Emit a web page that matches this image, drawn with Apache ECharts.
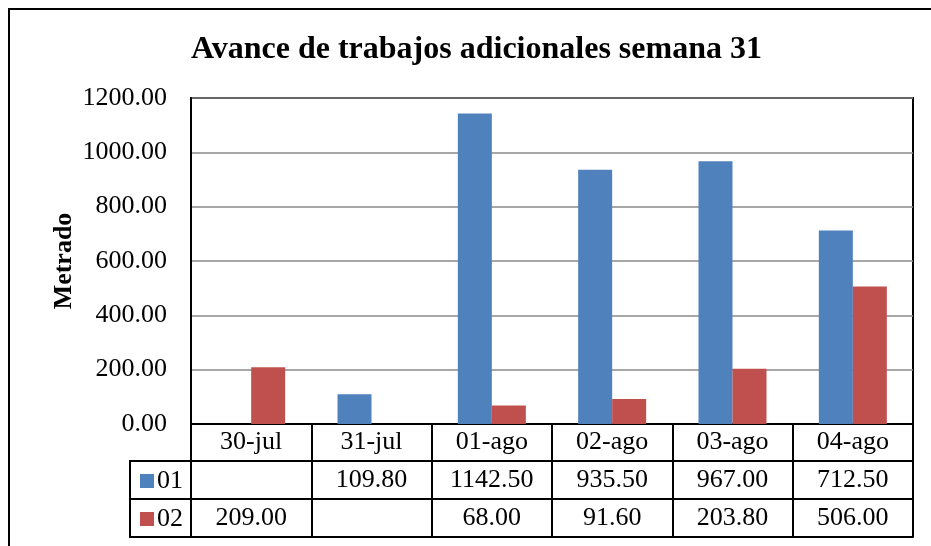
<!DOCTYPE html>
<html>
<head>
<meta charset="utf-8">
<script src="https://cdn.jsdelivr.net/npm/echarts@6/dist/echarts.min.js"></script>
<style>
  html, body { margin: 0; padding: 0; background: #fff; }
  #main { width: 931px; height: 546px; }
</style>
</head>
<body>
<div id="main"></div>
<script>
let categories = ["30-jul", "31-jul", "01-ago", "02-ago", "03-ago", "04-ago"];
let serie01 = [null, 109.8, 1142.5, 935.5, 967.0, 712.5];
let serie02 = [209.0, null, 68.0, 91.6, 203.8, 506.0];
let yTicks = { min: 0, max: 1200, step: 200 };

let font = "Liberation Serif";
let fmt = (v) => (v == null ? "" : v.toFixed(2));

// table row helper: one bottom axis per row, ticks act as cell dividers
let rowAxis = (offset, values, tickLen, margin) => ({
  type: "category",
  data: categories,
  position: "bottom",
  offset: offset,
  axisLine: { show: true, lineStyle: { color: "#000", width: 2 } },
  axisTick: { show: tickLen > 0, length: tickLen, interval: 0, lineStyle: { color: "#000", width: 2 } },
  axisLabel: {
    show: values != null,
    interval: 0,
    margin: margin,
    color: "#000",
    fontFamily: font,
    fontSize: 26,
    formatter: (v, i) => (values ? values[i] : ""),
  },
  splitLine: { show: false },
});

let option = {
  animation: false,
  backgroundColor: "#fff",
  title: {
    text: "Avance de trabajos adicionales semana 31",
    left: 186,
    top: 29,
    textStyle: { fontFamily: font, fontSize: 32, fontWeight: "bold", color: "#000" },
  },
  legend: {
    orient: "vertical",
    left: 135,
    top: 463,
    itemWidth: 14,
    itemHeight: 14,
    itemGap: 12,
    icon: "rect",
    textStyle: { fontFamily: font, fontSize: 26, color: "#000", padding: [0, 0, 0, -2] },
    data: ["01", "02"],
  },
  grid: {
    left: 191,
    top: 98,
    width: 722,
    height: 326,
    show: true,
    borderColor: "#000",
    borderWidth: 2,
    backgroundColor: "transparent",
  },
  xAxis: [
    rowAxis(0, categories, 37, 5),
    rowAxis(37, serie01.map(fmt), 38, 6),
    rowAxis(75, serie02.map(fmt), 38, 6),
    rowAxis(113, null, 0, 0),
  ],
  yAxis: {
    type: "value",
    min: yTicks.min,
    max: yTicks.max,
    interval: yTicks.step,
    name: "Metrado",
    nameLocation: "middle",
    nameRotate: 90,
    nameGap: 114,
    nameMoveOverlap: false,
    nameTextStyle: { fontFamily: font, fontSize: 26, fontWeight: "bold", color: "#000" },
    axisLine: { show: true, lineStyle: { color: "#000", width: 2 } },
    axisTick: { show: false },
    axisLabel: { margin: 24, color: "#000", fontFamily: font, fontSize: 26, formatter: (v) => v.toFixed(2) },
    splitLine: { show: true, lineStyle: { color: "#8a8a8a", width: 1.5 } },
  },
  series: [
    {
      name: "01",
      type: "bar",
      xAxisIndex: 0,
      data: serie01,
      barWidth: 34,
      barGap: "0%",
      itemStyle: { color: "#4F81BD" },
    },
    {
      name: "02",
      type: "bar",
      xAxisIndex: 0,
      data: serie02,
      barWidth: 34,
      barGap: "0%",
      itemStyle: { color: "#C0504D" },
    },
  ],
  graphic: [
    // outer chart frame
    { type: "rect", shape: { x: 9, y: 9, width: 960, height: 600 }, style: { fill: "none", stroke: "#000", lineWidth: 2 }, z: 0 },
    // legend column of the data table
    { type: "polyline", shape: { points: [[191, 461], [130, 461], [130, 537], [191, 537]] }, style: { fill: "none", stroke: "#000", lineWidth: 2 } },
    { type: "line", shape: { x1: 130, y1: 499, x2: 191, y2: 499 }, style: { stroke: "#000", lineWidth: 2 } },
  ],
};

let myChart = echarts.init(document.getElementById("main"));
myChart.setOption(option);
</script>
</body>
</html>
